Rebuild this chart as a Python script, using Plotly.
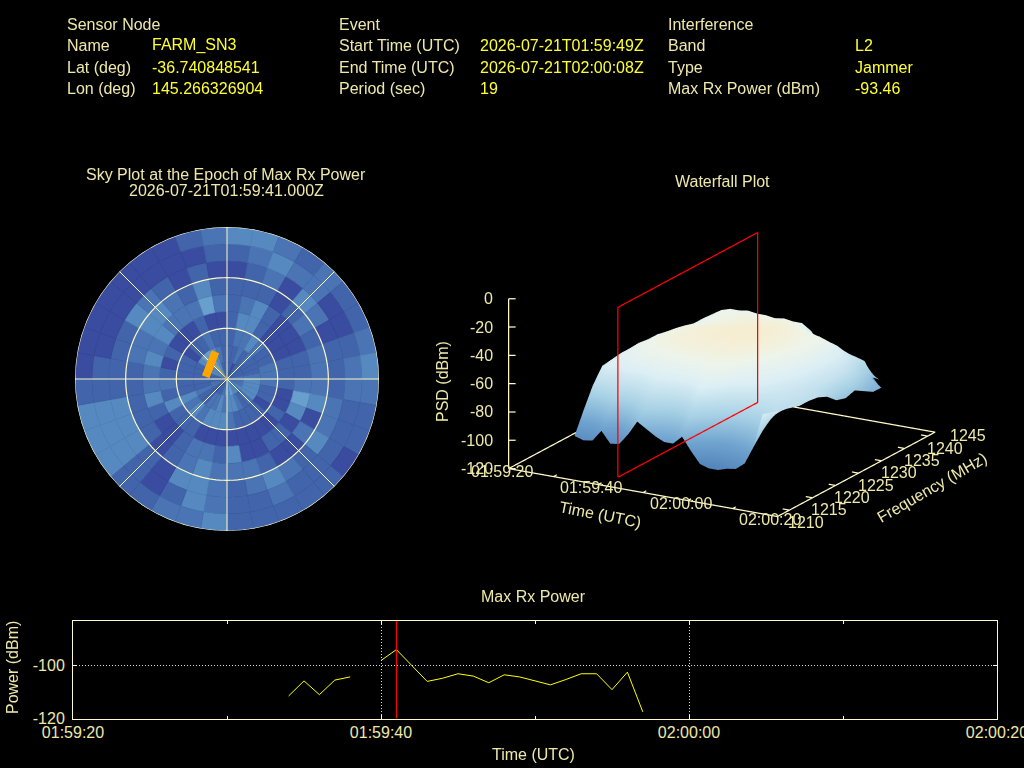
import numpy as np
import plotly.graph_objects as go

WIDTH, HEIGHT = 1024, 768
LABEL = "#eee8aa"
VALUE = "#ffff33"
FRAME = "#fffac8"

# header block
header_cols = [
    (65, 150, [("Sensor Node", ""), ("Name", "FARM_SN3"), ("Lat (deg)", "-36.740848541"), ("Lon (deg)", "145.266326904")]),
    (337, 478, [("Event", ""), ("Start Time (UTC)", "2026-07-21T01:59:49Z"), ("End Time (UTC)", "2026-07-21T02:00:08Z"), ("Period (sec)", "19")]),
    (666, 853, [("Interference", ""), ("Band", "L2"), ("Type", "Jammer"), ("Max Rx Power (dBm)", "-93.46")]),
]
header_rows = [24, 45, 67, 89]

# max rx power, seconds after 01:59:00 (None is a gap in the record)
power_times = [34, 35, 36, 37, 38, 39, 40, 41, 42, 43, 44, 45, 46, 47, 48, 49, 50, 51, 52, 53, 54, 55, 56, 57]
power_dbm = [-111.5, -105.8, -111, -105.5, -104.3, None, -98.1, -94, -100, -106, -104.8, -103.1, -104,
             -106.5, -103.5, -104.3, -105.8, -107.3, -105.3, -103.1, -103.1, -109.1, -102.5, -117.5]
epoch_second = 41

# sky plot cells, shade level per 10 deg azimuth sector, inner ring first
sky_levels = [
    [1, 1, 0, 1, 2, 1, 1, 1, 2, 2, 2, 2, 3, 2, 3, 3, 4, 3, 3, 2, 1, 1, 0, 1, 2, 2, 1, 1, 1, 3, 3, 3, 4, 3, 1, 1],
    [1, 1, 2, 1, 2, 1, 1, 1, 2, 3, 3, 3, 3, 2, 1, 2, 3, 3, 2, 3, 2, 2, 1, 1, 2, 1, 1, 1, 1, 1, 3, 4, 4, 3, 2, 1],
    [1, 2, 2, 3, 2, 1, 1, 2, 2, 2, 1, 1, 0, 1, 1, 1, 1, 2, 3, 3, 3, 2, 3, 2, 3, 1, 1, 1, 1, 1, 0, 1, 1, 2, 1, 1],
    [1, 3, 3, 1, 0, 0, 0, 1, 1, 1, 0, 0, 1, 0, 0, 0, 0, 0, 0, 0, 0, 1, 1, 1, 3, 1, 2, 1, 0, 1, 0, 0, 0, 1, 0, 0],
    [1, 2, 3, 1, 0, 0, 0, 1, 1, 2, 4, 3, 0, 1, 1, 0, 0, 3, 1, 2, 2, 1, 0, 0, 1, 3, 2, 2, 3, 2, 3, 2, 2, 2, 4, 2],
    [1, 1, 1, 0, 1, 2, 1, 2, 2, 2, 3, 0, 2, 0, 0, 1, 2, 2, 2, 3, 2, 1, 0, 1, 1, 1, 1, 1, 2, 2, 3, 3, 2, 1, 3, 1],
    [0, 1, 2, 0, 3, 2, 0, 1, 1, 1, 2, 2, 3, 1, 2, 3, 2, 1, 2, 3, 3, 0, 1, 3, 3, 3, 1, 1, 1, 1, 3, 2, 1, 0, 1, 0],
    [1, 2, 3, 2, 2, 0, 0, 1, 2, 2, 1, 1, 1, 1, 1, 2, 1, 1, 2, 3, 1, 0, 1, 3, 3, 3, 1, 1, 0, 0, 0, 0, 0, 0, 0, 1],
    [3, 3, 2, 1, 2, 1, 1, 2, 3, 2, 1, 1, 0, 1, 1, 1, 1, 1, 3, 2, 2, 1, 1, 3, 3, 3, 1, 0, 0, 0, 0, 0, 0, 0, 1, 2],
]
sky_azimuths = list(range(0, 360, 10))
sky_ring_edges = [0, 10, 20, 30, 40, 50, 60, 70, 80]
sky_shades = ["#3a4ca0", "#4264aa", "#4a74b3", "#5689c0", "#689fcc"]

# orange track on the sky plot
track_r = [12.7, 12.4, 14.2, 17.5]
track_az = [276, 301, 322, 337]
pointer_r = [0, 12.3]
pointer_az = [319, 319]

# waterfall, seconds after 01:59:20 by frequency
wf_seconds = [11, 13, 15, 17, 19, 21, 23, 25, 27, 29, 31, 33, 35, 37, 39, 41, 43, 45, 47, 49, 51, 53]
wf_freqs = [1211, 1213, 1215, 1217, 1219, 1221, 1223, 1225, 1227, 1229, 1231, 1233, 1235, 1237, 1239, 1241]
wf_psd = [
    [-97, -82, -68, -58, -57, -56, -56, -57, -57, -58, -60, -62, -62, -64, -76, -92],
    [-99, -82, -66, -56, -53, -52, -51, -52, -52, -54, -56, -58, -58, -58, -72, -90],
    [-98, -80, -66, -57, -52, -49, -48, -48, -49, -50, -52, -54, -54, -54, -68, -88],
    [-90, -76, -64, -55, -50, -47, -46, -45, -46, -47, -49, -50, -50, -50, -62, -84],
    [-98, -80, -65, -54, -49, -46, -44, -44, -44, -45, -48, -47, -46, -48, -56, -76],
    [-97, -79, -64, -55, -49, -45, -43, -43, -43, -44, -46, -46, -46, -48, -56, -74],
    [-89, -74, -62, -53, -48, -44, -42, -42, -42, -43, -45, -45, -46, -47, -56, -74],
    [-79, -70, -60, -52, -47, -44, -42, -41, -41, -42, -44, -44, -45, -48, -55, -72],
    [-83, -72, -62, -53, -47, -44, -42, -41, -41, -41, -43, -43, -45, -48, -56, -72],
    [-87, -75, -63, -52, -46, -43, -41, -40, -40, -40, -42, -43, -45, -49, -56, -72],
    [-90, -77, -64, -53, -48, -44, -42, -41, -40, -40, -41, -43, -45, -48, -56, -70],
    [-90, -76, -62, -50, -45, -43, -41, -40, -39, -40, -41, -42, -45, -49, -56, -72],
    [-84, -70, -56, -49, -47, -44, -42, -41, -40, -40, -41, -43, -45, -49, -58, -74],
    [-93, -78, -64, -52, -47, -45, -43, -42, -41, -41, -42, -44, -48, -60, -66, -78],
    [-101, -84, -70, -60, -53, -48, -45, -43, -42, -42, -43, -45, -50, -62, -68, -80],
    [-103, -88, -74, -63, -56, -51, -48, -46, -44, -44, -45, -46, -52, -63, -70, -82],
    [-103, -90, -76, -65, -58, -54, -51, -49, -47, -46, -46, -47, -54, -64, -72, -84],
    [-101, -88, -76, -66, -60, -57, -54, -52, -50, -49, -49, -50, -56, -65, -74, -86],
    [-100, -87, -75, -66, -62, -60, -58, -56, -55, -54, -54, -56, -60, -66, -76, -90],
    [-95, -83, -72, -65, -63, -62, -61, -60, -60, -59, -59, -60, -64, -68, -84, -96],
    [-82, -74, -68, -66, -65, -64, -64, -64, -63, -63, -64, -68, -74, -80, -84, None],
    [-58, -60, -62, -64, -66, -66, -67, -70, -76, -78, -76, -80, -84, -84, None, None],
]
wf_colors = [
    [0, "#4f80b8"], [0.25, "#6fa3cf"], [0.5, "#a9d2e5"], [0.75, "#dceff5"], [0.9, "#eef4ea"], [1, "#f6eed2"],
]

time_ticks = [0, 20, 40, 60]
time_labels = ["01:59:20", "01:59:40", "02:00:00", "02:00:20"]
freq_ticks = [1210, 1215, 1220, 1225, 1230, 1235, 1240, 1245]
psd_ticks = [0, -20, -40, -60, -80, -100, -120]
FREQ_LOW, FREQ_HIGH, FREQ_PAD = 1207.4, 1241.6, 1246
PLANE_LOW, PLANE_HIGH = 1210.7, 1241

CAMERA_DIST = 1.78


def px(x):
    return x / WIDTH


def py(y):
    return 1 - y / HEIGHT


def note(x, y, text, color=LABEL, anchor="center", angle=0, size=16):
    return dict(
        x=px(x), y=py(y), xref="paper", yref="paper", text=text, showarrow=False,
        xanchor=anchor, yanchor="middle", textangle=angle,
        font=dict(color=color, size=size, family="Liberation Sans"),
    )


def scene_note(x, y, z, text, xshift=0, yshift=0, anchor="center"):
    return dict(
        x=x, y=y, z=z, text=text, showarrow=False, xanchor=anchor, yanchor="middle",
        xshift=xshift, yshift=yshift, font=dict(color=LABEL, size=16, family="Liberation Sans"),
    )


def line3d(xs, ys, zs, color=FRAME, scene="scene", width=2.5):
    return go.Scatter3d(
        x=xs, y=ys, z=zs, mode="lines", line=dict(color=color, width=width),
        hoverinfo="skip", showlegend=False, scene=scene,
    )


fig = go.Figure()

# sky plot
for ring, edge in zip(sky_levels, sky_ring_edges):
    shades = [sky_shades[v] for v in ring]
    fig.add_trace(go.Barpolar(
        r=[10] * len(ring), base=edge, theta=[a + 5 for a in sky_azimuths], width=10,
        marker=dict(color=shades, line=dict(width=0.6, color=shades)),
        showlegend=False, subplot="polar",
    ))
ring_theta = list(range(0, 361, 2))
for ring_r in [30, 60, 90]:
    fig.add_trace(go.Scatterpolar(
        r=[ring_r] * len(ring_theta), theta=ring_theta, mode="lines",
        line=dict(color=FRAME, width=1.2), showlegend=False, subplot="polar",
    ))
for spoke in [0, 45, 90, 135]:
    fig.add_trace(go.Scatterpolar(
        r=[90, 90], theta=[spoke, spoke + 180], mode="lines",
        line=dict(color=FRAME, width=1), showlegend=False, subplot="polar",
    ))
fig.add_trace(go.Scatterpolar(
    r=pointer_r, theta=pointer_az, mode="lines", line=dict(color="#ffa500", width=1),
    showlegend=False, subplot="polar",
))
fig.add_trace(go.Scatterpolar(
    r=track_r, theta=track_az, mode="lines", line=dict(color="#ffa500", width=8),
    showlegend=False, subplot="polar",
))

# waterfall
wf_z = np.array(wf_psd, dtype=float).T
fig.add_trace(go.Surface(
    x=wf_seconds, y=wf_freqs, z=wf_z, colorscale=wf_colors, cmin=-105, cmax=-40, showscale=False,
    lighting=dict(ambient=1, diffuse=0, specular=0, fresnel=0, roughness=1), hoverinfo="skip",
))
box_x = [0, 60, 60, 0, 0]
box_y = [FREQ_LOW, FREQ_LOW, FREQ_HIGH, FREQ_HIGH, FREQ_LOW]
fig.add_trace(line3d(box_x, box_y, [-120] * 5))
fig.add_trace(line3d([0, 0], [FREQ_LOW, FREQ_LOW], [-120, 0]))
for z in psd_ticks:
    fig.add_trace(line3d([0, 1.15], [FREQ_LOW, FREQ_LOW + 0.38], [z, z]))
for sec in range(0, 61, 10):
    fig.add_trace(line3d([sec, sec], [FREQ_LOW, FREQ_LOW + 0.7], [-120, -120]))
for freq in freq_ticks[:-1]:
    fig.add_trace(line3d([60, 58.5], [freq, freq], [-120, -120]))
fig.add_trace(line3d(
    [21, 21, 21, 21, 21], [PLANE_LOW, PLANE_HIGH, PLANE_HIGH, PLANE_LOW, PLANE_LOW],
    [-120, -120, 0, 0, -120], color="#ff0000", scene="scene2", width=2.5,
))

# power strip
power_x = [f"2026-07-21 01:59:{t:02d}" for t in power_times]
fig.add_trace(go.Scatter(
    x=power_x, y=power_dbm, mode="lines", line=dict(color="#ffff00", width=1),
    connectgaps=False, showlegend=False, xaxis="x", yaxis="y",
))
fig.add_trace(go.Scatter(
    x=[f"2026-07-21 01:59:{epoch_second}"] * 2, y=[-120, -83], mode="lines",
    line=dict(color="#ff0000", width=1.2), showlegend=False, xaxis="x", yaxis="y",
))

scene_axis = dict(
    visible=False, showgrid=False, zeroline=False, showbackground=False, showspikes=False,
)
eye_dir = np.array([0.4755, -0.8236, 0.309])
eye = dict(zip("xyz", (eye_dir * CAMERA_DIST).tolist()))
scene_common = dict(
    domain=dict(x=[px(442), px(1022)], y=[py(650), py(70)]),
    xaxis=dict(scene_axis, range=[0, 60]),
    yaxis=dict(scene_axis, range=[FREQ_LOW, FREQ_PAD]),
    zaxis=dict(scene_axis, range=[-120, 0]),
    aspectmode="manual",
    aspectratio=dict(x=1.07, y=1.227, z=0.616),
    camera=dict(eye=eye, center=dict(x=0, y=0, z=0), up=dict(x=0, y=0, z=1),
                projection=dict(type="orthographic")),
    dragmode=False,
)

annotations = []
for col_a, col_b, rows in header_cols:
    for y, (name, val) in zip(header_rows, rows):
        annotations.append(note(col_a, y, name, anchor="left"))
        if val:
            annotations.append(note(col_b, y, val, color=VALUE, anchor="left"))
annotations += [
    note(226, 174, "Sky Plot at the Epoch of Max Rx Power"),
    note(226, 190, "2026-07-21T01:59:41.000Z"),
    note(722, 181, "Waterfall Plot"),
    note(533, 596, "Max Rx Power"),
    note(533, 754, "Time (UTC)"),
    note(12, 668, "Power (dBm)", angle=-90),
    note(443, 382, "PSD (dBm)", angle=-90),
    note(600, 514, "Time (UTC)", angle=11),
    note(932, 487, "Frequency (MHz)", angle=-30),
]

scene_notes = []
for sec, lab in zip(time_ticks, time_labels):
    scene_notes.append(scene_note(sec, FREQ_LOW, -120, lab, xshift=-7, yshift=-3))
for freq in freq_ticks:
    scene_notes.append(scene_note(60, freq, -120, str(freq), xshift=17, yshift=-12))
for z in psd_ticks:
    scene_notes.append(scene_note(0, FREQ_LOW, z, str(z), xshift=-14, anchor="right"))

fig.update_layout(
    width=WIDTH, height=HEIGHT, autosize=False,
    paper_bgcolor="black", plot_bgcolor="black",
    margin=dict(l=0, r=0, t=0, b=0),
    showlegend=False,
    font=dict(family="Liberation Sans", size=16, color=LABEL),
    polar=dict(
        domain=dict(x=[px(75), px(379)], y=[py(531), py(227)]),
        bgcolor="black",
        radialaxis=dict(visible=False, range=[0, 90]),
        angularaxis=dict(visible=False, direction="clockwise", rotation=90),
        barmode="overlay",
    ),
    scene=dict(scene_common, annotations=scene_notes),
    scene2=scene_common,
    xaxis=dict(
        domain=[px(73), px(997)], anchor="y", type="date", automargin=False,
        range=["2026-07-21 01:59:20", "2026-07-21 02:00:20"],
        dtick=20000, tickformat="%H:%M:%S", ticks="inside", ticklen=4, tickcolor=FRAME,
        showline=True, linecolor=FRAME, linewidth=1, mirror="ticks",
        ticklabeloverflow="allow", ticklabelstandoff=-1,
        showgrid=True, gridcolor="#dddddd", griddash="1px,2px", gridwidth=1, zeroline=False,
        minor=dict(dtick=10000, ticks="inside", ticklen=3, tickcolor=FRAME, showgrid=False),
        tickfont=dict(color=LABEL, size=16),
    ),
    yaxis=dict(
        domain=[py(718.5), py(620.5)], anchor="x", range=[-120, -83], automargin=False,
        tickvals=[-120, -100], ticktext=["-120", "-100"], ticks="inside", ticklen=4, tickcolor=FRAME,
        showline=True, linecolor=FRAME, linewidth=1, mirror="ticks", ticklabelstandoff=4,
        showgrid=True, gridcolor="#dddddd", griddash="1px,2px", gridwidth=1, zeroline=False,
        tickfont=dict(color=LABEL, size=16),
    ),
    annotations=annotations,
)

fig.write_html("out.html", config=dict(displayModeBar=False),
               post_script="document.body.style.margin='0';")
